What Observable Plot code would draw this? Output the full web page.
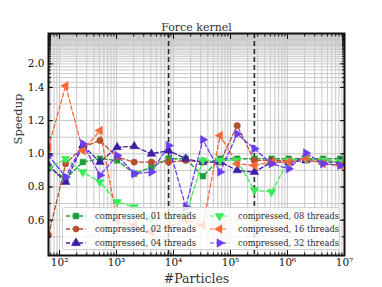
<!DOCTYPE html>
<html><head><meta charset="utf-8">
<script src="https://cdn.jsdelivr.net/npm/d3@7"></script>
<script src="https://cdn.jsdelivr.net/npm/@observablehq/plot@0.6"></script>
<style>
body{margin:0;background:#fff}
#c{position:relative;width:382px;height:287px;font-family:"DejaVu Serif","Liberation Serif",serif}
#c svg text{font-family:"DejaVu Serif","Liberation Serif",serif}
#legend{position:absolute;left:62px;top:207px;width:278px;height:43px;background:rgba(255,255,255,0.8);border:1px solid #d0d0d0;border-radius:3px;box-sizing:border-box;display:grid;grid-template-columns:144px 132px;grid-template-rows:13.5px 13.5px 13.5px;grid-auto-flow:column;padding-top:1px}
.it{display:flex;align-items:center;font-size:8.3px;color:#2a2a2a;white-space:nowrap}
.it svg{margin-left:2px;margin-right:8px}
</style></head>
<body><div id="c"></div>
<script>
const particles = [64,128,256,512,1024,2048,4096,8192,16384,32768,65536,131072,262144,524288,1048576,2097152,4194304,8388608];
const seriesNames = ["compressed, 01 threads","compressed, 02 threads","compressed, 04 threads","compressed, 08 threads","compressed, 16 threads","compressed, 32 threads"];
const s01 = [0.92,0.85,0.95,0.97,0.96,0.88,0.92,0.97,0.97,0.865,0.97,0.97,0.97,0.97,0.97,0.97,0.97,0.97];
const s02 = [0.51,0.94,1.04,1.08,0.98,0.95,0.95,0.95,0.96,0.95,0.95,1.17,0.96,0.96,0.96,0.97,0.96,0.95];
const s04 = [0.93,0.83,1.05,0.95,1.04,1.045,1.0,1.02,0.97,0.95,0.95,0.90,0.89,0.95,0.95,0.96,0.95,0.95];
const s08 = [0.91,0.97,0.89,0.83,0.71,0.68,0.61,0.62,0.63,0.96,0.96,0.96,0.78,0.77,0.96,0.97,0.96,0.95];
const s16 = [1.04,1.43,1.02,1.14,0.60,0.57,0.53,0.56,0.60,0.57,1.11,0.94,0.93,0.95,0.95,0.97,0.94,0.93];
const s32 = [0.99,0.86,1.06,0.87,0.99,0.88,0.89,1.05,0.68,1.085,0.89,1.12,1.03,0.94,0.91,1.005,0.94,0.93];
const colors = ["#1f9e3c","#b4502c","#3d1fa3","#3aec58","#f4683a","#6b3cf0"];
const markerLines = [8192, 262144];
const xMajor = [100,1e3,1e4,1e5,1e6,1e7];
const yLabels = [0.6,0.8,1.0,1.2,1.4,2.0];
const yGridLow = [0.5,0.6,0.7,0.8,0.9,1.0,1.1,1.2,1.3,1.4];
const yGridHigh = d3.range(15,45).map(k=>k/10);

const allSeries = [s01,s02,s04,s08,s16,s32];
const rows = [];
allSeries.forEach((s,i)=>s.forEach((v,j)=>rows.push({n:particles[j], v, series:seriesNames[i]})));
const xGrid = [];
for (let e=1;e<7;e++) for (let m=1;m<10;m++){const v=m*10**e; if(v>=64&&v<=1e7) xGrid.push(v);}
xGrid.push(1e7);

// compressed axis above 1.4
const f = v => v <= 1.4 ? v : 1.4 + 0.473*(1 - 1.4/v);
const yGrid = yGridLow.concat(yGridHigh);

function tri(angle){
  const c=Math.cos(angle), s=Math.sin(angle);
  return {draw(ctx,size){
    const y=-Math.sqrt(size/(3*Math.sqrt(3)));
    const pts=[[0,2*y],[-Math.sqrt(3)*y,-y],[Math.sqrt(3)*y,-y]].map(([a,b])=>[a*c-b*s,a*s+b*c]);
    ctx.moveTo(pts[0][0],pts[0][1]);ctx.lineTo(pts[1][0],pts[1][1]);ctx.lineTo(pts[2][0],pts[2][1]);ctx.closePath();
  }};
}
const symbols = [d3.symbolSquare, d3.symbolCircle, tri(0), tri(Math.PI), tri(-Math.PI/2), tri(Math.PI/2)];
const sizes = [34,30,36,36,36,36];

const sup = {"0":"⁰","1":"¹","2":"²","3":"³","4":"⁴","5":"⁵","6":"⁶","7":"⁷","8":"⁸","9":"⁹"};
const fmtX = d => "10" + String(Math.round(Math.log10(d))).split("").map(c=>sup[c]).join("");
const labelMap = new Map(yLabels.map(v=>[f(v), v.toFixed(1)]));
const fmtY = d => labelMap.get(d) ?? "";

const blank = () => "";
const serif = "DejaVu Serif, Liberation Serif, serif";
const chart = Plot.plot({
  width:382, height:287,
  marginLeft:48, marginRight:38, marginTop:33, marginBottom:32,
  style:{fontFamily:serif, fontSize:"10px", background:"transparent", color:"#111", overflow:"visible"},
  x:{type:"log", domain:[64,1e7]},
  y:{domain:[0.387,1.725]},
  color:{domain:seriesNames, range:colors},
  symbol:{domain:seriesNames, range:symbols},
  marks:[
    Plot.ruleX(xGrid, {stroke:"#c8c8c8", strokeWidth:1}),
    Plot.ruleY(yGrid.map(f), {stroke:"#c8c8c8", strokeWidth:1}),
    Plot.ruleX(markerLines, {stroke:"#2a2a2a", strokeWidth:1.6, strokeDasharray:"5,3"}),
    Plot.line(rows, {x:"n", y:d=>f(d.v), z:"series", stroke:"series", strokeWidth:1.3, strokeDasharray:"4,2.5", clip:true}),
    Plot.dot(rows, {x:"n", y:d=>f(d.v), symbol:"series", fill:"series", stroke:"series", strokeWidth:0.5, r:3.2, clip:true}),
    Plot.axisX(xMajor, {anchor:"bottom", tickSize:0, tickPadding:3, tickFormat:fmtX, label:null, fontSize:10.5}),
    Plot.axisX(xGrid, {anchor:"bottom", tickSize:-2.5, tickFormat:blank, label:null}),
    Plot.axisX(xMajor, {anchor:"bottom", tickSize:-5, tickFormat:blank, label:null}),
    Plot.axisX(xGrid, {anchor:"top", tickSize:-2.5, tickFormat:blank, label:null}),
    Plot.axisX(xMajor, {anchor:"top", tickSize:-5, tickFormat:blank, label:null}),
    Plot.axisY(yLabels.map(f), {anchor:"left", tickSize:0, tickPadding:4, tickFormat:fmtY, label:null, fontSize:10.5}),
    Plot.axisY(yGrid.map(f), {anchor:"left", tickSize:-3, tickFormat:blank, label:null}),
    Plot.axisY(yLabels.map(f), {anchor:"left", tickSize:-5, tickFormat:blank, label:null}),
    Plot.axisY(yGrid.map(f), {anchor:"right", tickSize:-3, tickFormat:blank, label:null}),
    Plot.axisY(yLabels.map(f), {anchor:"right", tickSize:-5, tickFormat:blank, label:null}),
    Plot.frame({stroke:"#111", strokeWidth:2}),
    Plot.text(["Force kernel"], {text:d=>d, frameAnchor:"top", lineAnchor:"bottom", dy:-3, fontSize:11, fill:"#333"}),
    Plot.text(["#Particles"], {text:d=>d, frameAnchor:"bottom", lineAnchor:"middle", dy:23, fontSize:12.5, fill:"#333"}),
    Plot.text(["Speedup"], {text:d=>d, frameAnchor:"left", lineAnchor:"middle", dx:-30, rotate:-90, fontSize:11.5, fill:"#333"})
  ]
});
const c = document.getElementById("c");
c.appendChild(chart);

// legend
const lg = document.createElement("div"); lg.id="legend";
seriesNames.forEach((name,i)=>{
  const it=document.createElement("div"); it.className="it";
  const p=d3.path(); symbols[i].draw(p, sizes[i]);
  it.innerHTML=`<svg width="22" height="10" viewBox="-11 -5 22 10"><line x1="-10" x2="10" y1="0" y2="0" stroke="${colors[i]}" stroke-width="1.3" stroke-dasharray="4,2.5"/><path d="${p}" fill="${colors[i]}" stroke="${colors[i]}" stroke-width="0.5"/></svg><span>${name}</span>`;
  lg.appendChild(it);
});
c.appendChild(lg);
</script></body></html>
